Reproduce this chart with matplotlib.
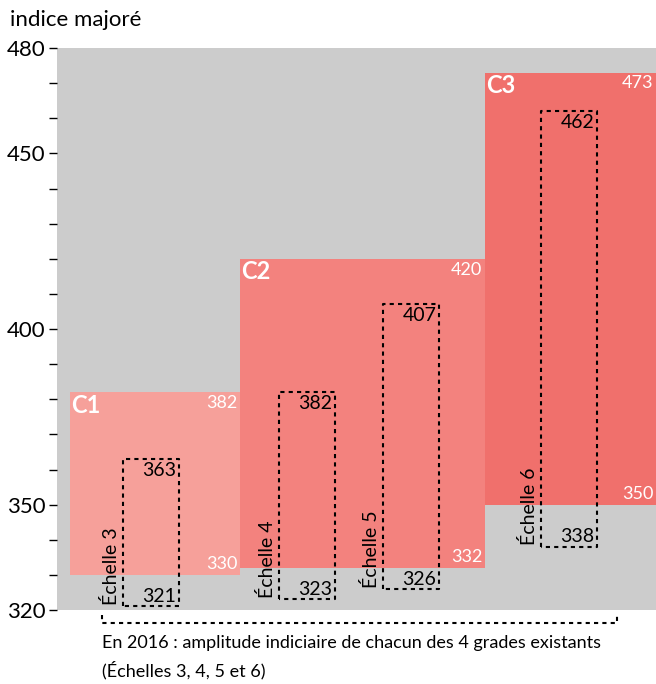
import matplotlib.pyplot as plt
from matplotlib.patches import Rectangle

plt.rcParams['font.family'] = ['Lato', 'DejaVu Sans']

# grades C1, C2, C3 (indice majore min / max), positions in px on x axis
grades = ["C1", "C2", "C3"]
g_min = [330, 332, 350]
g_max = [382, 420, 473]
g_x0 = [13, 183, 428]
g_x1 = [183, 428, 599]
g_col = ["#f6a09a", "#f3827e", "#f0706c"]

# echelles 3 a 6
echelles = ["Échelle 3", "Échelle 4", "Échelle 5", "Échelle 6"]
e_min = [321, 323, 326, 338]
e_max = [363, 382, 407, 462]
e_x0 = [66, 222, 326, 484]
e_w = 56

fig = plt.figure(figsize=(6.56, 6.84), dpi=100)
ax = fig.add_axes([57/656, 74/684, 599/656, 562/684])
ax.set_facecolor("#cccccc")
ax.set_xlim(0, 599)
ax.set_ylim(320, 480)

for i in range(len(grades)):
    ax.add_patch(Rectangle((g_x0[i], g_min[i]), g_x1[i]-g_x0[i], g_max[i]-g_min[i],
                           facecolor=g_col[i], edgecolor="none"))
    ax.annotate(grades[i], (g_x0[i], g_max[i]), xytext=(1, -1), textcoords="offset points",
                ha="left", va="top", color="white", fontsize=17, fontweight="bold")
    ax.annotate(str(g_max[i]), (g_x1[i], g_max[i]), xytext=(-2, -2), textcoords="offset points",
                ha="right", va="top", color="white", fontsize=13)
    ax.annotate(str(g_min[i]), (g_x1[i], g_min[i]), xytext=(-2, 2), textcoords="offset points",
                ha="right", va="bottom", color="white", fontsize=13)

for i in range(len(echelles)):
    x0 = e_x0[i]
    x1 = x0 + e_w
    ax.plot([x0, x0, x1, x1, x0], [e_min[i], e_max[i], e_max[i], e_min[i], e_min[i]],
            color="black", lw=1.5, dashes=(2, 2), clip_on=False)
    ax.annotate(str(e_max[i]), (x1, e_max[i]), xytext=(-2, -2), textcoords="offset points",
                ha="right", va="top", color="black", fontsize=14)
    ax.annotate(str(e_min[i]), (x1, e_min[i]), xytext=(-2, 1), textcoords="offset points",
                ha="right", va="bottom", color="black", fontsize=14)
    ax.annotate(echelles[i], (x0, e_min[i]), xytext=(-2, 1), textcoords="offset points",
                ha="right", va="bottom", rotation=90, color="black", fontsize=14)

# accolade du bas
ax.plot([45, 45, 560, 560], [318.6, 316.3, 316.3, 318.6], color="black", lw=1.5,
        dashes=(2, 2), clip_on=False)

for s in ax.spines.values():
    s.set_visible(False)
ax.set_yticks([320, 350, 400, 450, 480])
ax.set_yticks(range(320, 481, 10), minor=True)
ax.tick_params(axis="y", which="both", length=6, width=1, labelsize=16, pad=2)
ax.set_xticks([])

fig.text(10/656, 1-20/684, "indice majoré", fontsize=16, va="center", ha="left")
fig.text(102/656, 1-643/684, "En 2016 : amplitude indiciaire de chacun des 4 grades existants",
         fontsize=13, va="center", ha="left")
fig.text(102/656, 1-670/684, "(Échelles 3, 4, 5 et 6)", fontsize=13, va="center", ha="left")

fig.savefig("out.png", dpi=100)
